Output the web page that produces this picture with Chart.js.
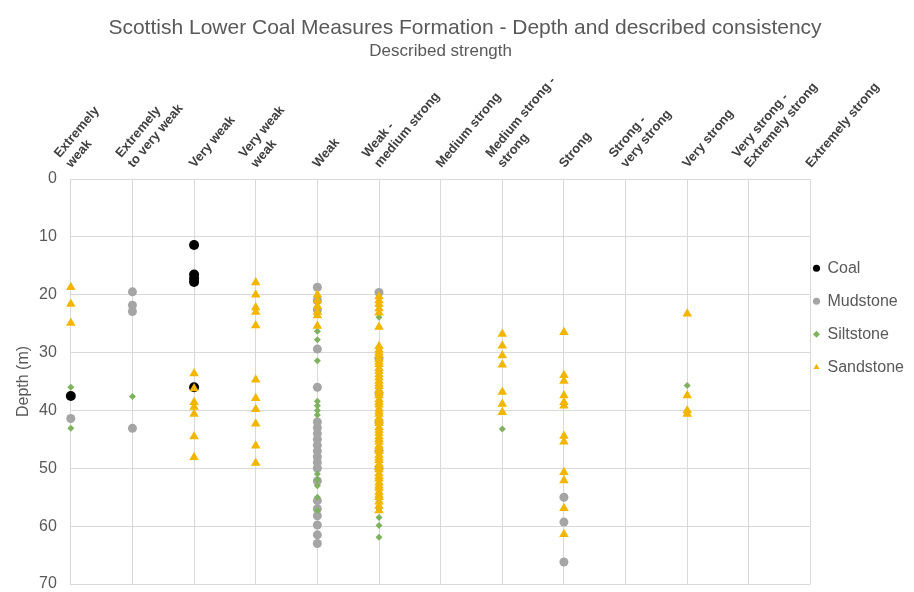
<!DOCTYPE html>
<html>
<head>
<meta charset="utf-8">
<script src="https://cdn.jsdelivr.net/npm/chart.js@4.4.1/dist/chart.umd.min.js"></script>
<style>
  html, body { margin: 0; padding: 0; background: #fff; }
  #wrap { width: 914px; height: 592px; }
</style>
</head>
<body>
<div id="wrap"><canvas id="chart" width="914" height="592"></canvas></div>
<script>
// strength categories, in order along the top axis
const categories = [
  ['Extremely', 'weak'],
  ['Extremely', 'to very weak'],
  'Very weak',
  ['Very weak', 'weak'],
  'Weak',
  ['Weak -', 'medium strong'],
  'Medium strong',
  ['Medium strong -', 'strong'],
  'Strong',
  ['Strong -', 'very strong'],
  'Very strong',
  ['Very strong -', 'Extremely strong'],
  'Extremely strong'
];

const depthTicks = [0, 10, 20, 30, 40, 50, 60, 70];

// depths (m) per category, one inner list per category above
const coal = [
  [37.5], [], [11.4, 16.5, 17.2, 17.8, 36.0], [], [], [], [], [], [], [], [], [], []
];

const mudstone = [
  [41.4],
  [19.5, 21.8, 22.9, 43.1],
  [], [],
  [18.7, 21.0, 22.6, 29.4, 36.0, 42.0, 43.0, 44.0, 45.0, 46.0, 47.0, 48.0, 49.0, 50.0, 52.2, 55.6, 57.0, 58.2, 59.8, 61.5, 63.0],
  [19.6, 31.0, 37.0, 42.0, 47.0, 50.0],
  [], [],
  [55.0, 59.3, 66.2],
  [], [], [], []
];

const siltstone = [
  [36.0, 43.1],
  [37.6],
  [], [],
  [26.3, 27.8, 31.4, 38.4, 39.2, 40.0, 40.8, 51.0, 52.0, 53.0, 55.0, 57.3],
  [20.2, 21.9, 23.9, 55.8, 57.0, 58.5, 59.9, 61.9],
  [],
  [43.2],
  [], [],
  [35.7],
  [], []
];

const sandstone = [
  [18.7, 21.6, 24.9],
  [],
  [33.6, 36.2, 38.6, 39.4, 40.6, 44.5, 48.1],
  [17.9, 20.0, 22.2, 23.0, 25.3, 34.7, 37.9, 39.8, 42.3, 46.1, 49.1],
  [20.0, 21.0, 22.0, 23.0, 23.6, 25.4],
  [20.3, 21.0, 21.6, 22.4, 23.1, 25.6, 28.9, 29.5, 30.0, 30.4, 31.1, 31.6, 32.0, 32.7, 33.2, 33.8,
   34.3, 34.9, 35.4, 35.8, 36.5, 37.0, 37.4, 38.1, 38.6, 39.0, 39.7, 40.2, 40.6, 41.3, 41.8, 42.2,
   42.9, 43.4, 43.9, 44.5, 45.0, 45.4, 46.1, 46.6, 47.0, 47.7, 48.2, 48.6, 49.3, 49.8, 50.2, 50.9,
   51.4, 51.8, 52.5, 53.0, 53.4, 54.1, 54.6, 55.0, 55.8, 56.5, 57.3],
  [],
  [26.8, 28.8, 30.5, 32.1, 36.8, 38.9, 40.3],
  [26.5, 33.9, 34.9, 37.4, 38.6, 39.2, 44.4, 45.4, 50.7, 52.1, 56.9, 61.4],
  [],
  [23.3, 37.4, 40.0, 40.6],
  [], []
];

function toPoints(series) {
  const pts = [];
  series.forEach((depths, i) => {
    depths.forEach(d => pts.push({ x: i + 1, y: d }));
  });
  return pts;
}

const grey = '#595959';
const gridColor = '#d9d9d9';
const font = 'Liberation Sans';

const ctx = document.getElementById('chart').getContext('2d');
new Chart(ctx, {
  type: 'scatter',
  data: {
    datasets: [
      {
        label: 'Coal',
        data: toPoints(coal),
        pointStyle: 'circle',
        pointRadius: 5,
        backgroundColor: '#000000',
        borderColor: '#000000',
        borderWidth: 0,
        order: 3,
        clip: false
      },
      {
        label: 'Mudstone',
        data: toPoints(mudstone),
        pointStyle: 'circle',
        pointRadius: 4.5,
        backgroundColor: '#a5a5a5',
        borderColor: '#a5a5a5',
        borderWidth: 0,
        order: 2,
        clip: false
      },
      {
        label: 'Siltstone',
        data: toPoints(siltstone),
        pointStyle: 'rectRot',
        pointRadius: 3.5,
        backgroundColor: '#7fb25e',
        borderColor: '#7fb25e',
        borderWidth: 0,
        order: 1,
        clip: false
      },
      {
        label: 'Sandstone',
        data: toPoints(sandstone),
        pointStyle: 'triangle',
        pointRadius: 5.5,
        backgroundColor: '#f2b600',
        borderColor: '#f2b600',
        borderWidth: 0,
        order: 0,
        clip: false
      }
    ]
  },
  options: {
    responsive: false,
    animation: false,
    layout: {
      padding: { left: 16, right: 0, top: 0, bottom: 0 }
    },
    scales: {
      x: {
        type: 'linear',
        position: 'top',
        min: 1,
        max: 13,
        grid: { color: gridColor, drawTicks: false },
        border: { color: gridColor },
        ticks: {
          stepSize: 1,
          autoSkip: false,
          minRotation: 50,
          maxRotation: 50,
          padding: 8,
          labelOffset: 10,
          color: '#404040',
          font: { family: font, size: 13, weight: 'bold' },
          callback: (v) => categories[v - 1]
        },
        title: {
          display: true,
          text: 'Described strength',
          color: grey,
          font: { family: font, size: 17 },
          padding: { top: 0, bottom: 0 }
        }
      },
      y: {
        reverse: true,
        min: 0,
        max: 70,
        afterBuildTicks: (axis) => {
          axis.ticks = depthTicks.map(v => ({ value: v }));
        },
        // invisible tick marks keep the labels away from the axis
        grid: { color: gridColor, drawTicks: true, tickLength: 14, tickColor: 'rgba(0,0,0,0)' },
        border: { color: gridColor },
        ticks: {
          padding: 0,
          color: grey,
          font: { family: font, size: 16, lineHeight: 1 }
        },
        title: {
          display: true,
          text: 'Depth (m)',
          color: grey,
          font: { family: font, size: 16, lineHeight: 1 },
          padding: { top: 0, bottom: 7 }
        }
      }
    },
    plugins: {
      title: {
        display: true,
        text: 'Scottish Lower Coal Measures Formation - Depth and described consistency',
        color: grey,
        font: { family: font, size: 21, weight: 'normal' },
        padding: { top: 16, bottom: 0 }
      },
      legend: {
        position: 'right',
        align: 'center',
        title: { display: true, text: '', font: { size: 12 }, padding: { top: 0, bottom: 43 } },
        labels: {
          usePointStyle: true,
          boxWidth: 6,
          boxHeight: 5,
          padding: 3,
          color: grey,
          font: { family: font, size: 16, lineHeight: 1.875 },
          sort: (a, b) => a.datasetIndex - b.datasetIndex,
          // single-line array text so the row height follows the font line height
          generateLabels: (chart) =>
            Chart.defaults.plugins.legend.labels.generateLabels(chart).map(item => {
              item.text = [item.text];
              return item;
            })
        }
      },
      tooltip: { enabled: false }
    }
  }
});
</script>
</body>
</html>
